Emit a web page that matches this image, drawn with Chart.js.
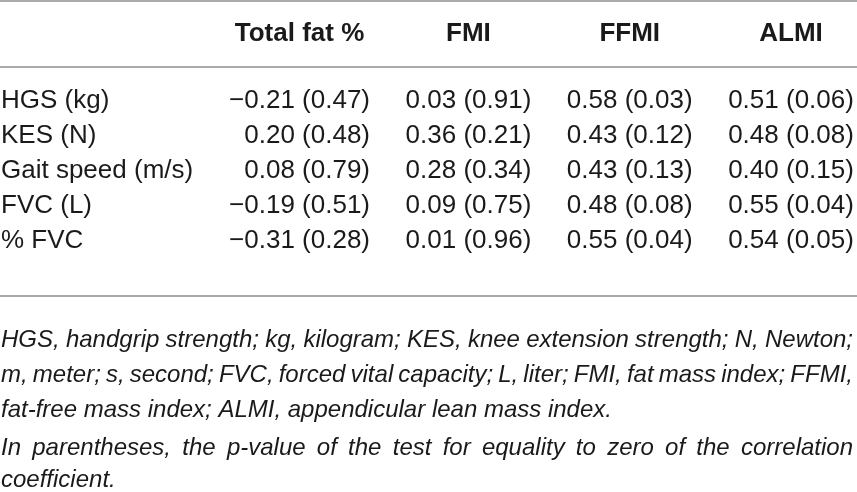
<!DOCTYPE html>
<html>
<head>
<meta charset="utf-8">
<script src="https://cdn.jsdelivr.net/npm/chart.js@4.4.1/dist/chart.umd.min.js"></script>
<style>
  html, body { margin: 0; padding: 0; background: #fff; }
  #wrap { position: relative; width: 857px; height: 492px; }
</style>
</head>
<body>
<div id="wrap"><canvas id="tbl" width="857" height="492"></canvas></div>
<script>
// Correlations (r) with p-values, one pair of arrays per column
const rowLabels = ['HGS (kg)', 'KES (N)', 'Gait speed (m/s)', 'FVC (L)', '% FVC'];
const colLabels = ['Total fat %', 'FMI', 'FFMI', 'ALMI'];

const totalFatR = [-0.21, 0.20, 0.08, -0.19, -0.31];
const totalFatP = [0.47, 0.48, 0.79, 0.51, 0.28];
const fmiR = [0.03, 0.36, 0.28, 0.09, 0.01];
const fmiP = [0.91, 0.21, 0.34, 0.75, 0.96];
const ffmiR = [0.58, 0.43, 0.43, 0.48, 0.55];
const ffmiP = [0.03, 0.12, 0.13, 0.08, 0.04];
const almiR = [0.51, 0.48, 0.40, 0.55, 0.54];
const almiP = [0.06, 0.08, 0.15, 0.04, 0.05];

const footLines = [
    ['HGS, handgrip strength; kg, kilogram; KES, knee extension strength; N, Newton;', true],
    ['m, meter; s, second; FVC, forced vital capacity; L, liter; FMI, fat mass index; FFMI,', true],
    ['fat-free mass index; ALMI, appendicular lean mass index.', false],
    ['In parentheses, the p-value of the test for equality to zero of the correlation', true],
    ['coefficient.', false]
];

const columnsR = [totalFatR, fmiR, ffmiR, almiR];
const columnsP = [totalFatP, fmiP, ffmiP, almiP];

function fmt(v) {
    const s = Math.abs(v).toFixed(2);
    return v < 0 ? '\u2212' + s : s;
}

const FONT = '"Liberation Sans", Arial, sans-serif';
const INK = '#1a1a1a';
const RULE = '#aaaaaa';

const tablePlugin = {
    id: 'tablePlugin',
    afterDatasetsDraw(chart) {
        const ctx = chart.ctx;
        const xs = chart.scales.x, ys = chart.scales.y;
        const W = chart.width;
        ctx.save();

        // horizontal rules
        ctx.strokeStyle = RULE;
        ctx.lineWidth = 2;
        [-2.86, -0.97, 5.57].forEach(v => {
            const y = Math.round(ys.getPixelForValue(v));
            ctx.beginPath();
            ctx.moveTo(0, y);
            ctx.lineTo(W, y);
            ctx.stroke();
        });

        ctx.fillStyle = INK;
        ctx.textBaseline = 'middle';

        // cell values
        ctx.font = '26px ' + FONT;
        const colWidths = [];
        chart.data.datasets.forEach((ds, di) => {
            const meta = chart.getDatasetMeta(di);
            let maxW = 0;
            ctx.textAlign = 'right';
            meta.data.forEach((pt, i) => {
                const txt = ds.cellText[i];
                maxW = Math.max(maxW, ctx.measureText(txt).width);
                ctx.fillText(txt, pt.x, pt.y);
            });
            colWidths.push(maxW);
        });

        // row labels
        ctx.textAlign = 'left';
        rowLabels.forEach((lab, i) => {
            ctx.fillText(lab, 1, ys.getPixelForValue(i));
        });

        // column headers, centred over each column's values
        ctx.font = 'bold 26px ' + FONT;
        ctx.textAlign = 'center';
        colLabels.forEach((lab, c) => {
            const right = xs.getPixelForValue(c);
            ctx.fillText(lab, right - colWidths[c] / 2, ys.getPixelForValue(-1.93));
        });

        // footnote, justified
        ctx.font = 'italic 24px ' + FONT;
        ctx.textAlign = 'left';
        const left = 1, right = 853;
        const lineY = [340, 375, 410, 448, 480];
        footLines.forEach(([text, justify], li) => {
            const y = lineY[li];
            if (!justify) {
                ctx.fillText(text, left, y);
                return;
            }
            const words = text.split(' ');
            const total = words.reduce((s, w) => s + ctx.measureText(w).width, 0);
            const gap = (right - left - total) / (words.length - 1);
            let x = left;
            words.forEach(w => {
                ctx.fillText(w, x, y);
                x += ctx.measureText(w).width + gap;
            });
        });

        ctx.restore();
    }
};

const datasets = colLabels.map((lab, c) => ({
    label: lab,
    data: rowLabels.map((_, i) => ({ x: c, y: i })),
    cellText: columnsR[c].map((r, i) => fmt(r) + ' (' + columnsP[c][i].toFixed(2) + ')'),
    pointRadius: 0,
    pointHoverRadius: 0
}));

new Chart(document.getElementById('tbl').getContext('2d'), {
    type: 'scatter',
    data: { datasets: datasets },
    options: {
        responsive: false,
        animation: false,
        layout: { padding: 0 },
        events: [],
        plugins: { legend: { display: false }, tooltip: { enabled: false } },
        scales: {
            x: { type: 'linear', display: false, min: -370 / 161.3, max: (857 - 370) / 161.3 },
            y: { type: 'linear', display: false, reverse: true, min: -101 / 35, max: (492 - 101) / 35 }
        }
    },
    plugins: [tablePlugin]
});
</script>
</body>
</html>
